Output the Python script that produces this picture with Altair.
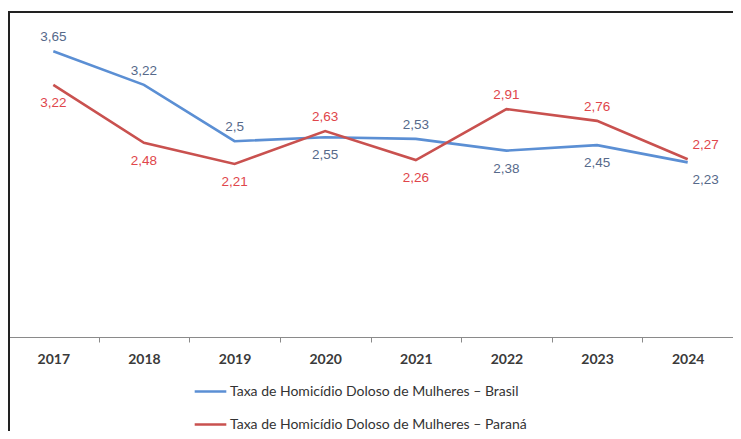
import altair as alt
import pandas as pd

years = ["2017", "2018", "2019", "2020", "2021", "2022", "2023", "2024"]
brasil = [3.65, 3.22, 2.5, 2.55, 2.53, 2.38, 2.45, 2.23]
parana = [3.22, 2.48, 2.21, 2.63, 2.26, 2.91, 2.76, 2.27]
series_names = [
    "Taxa de Homicídio Doloso de Mulheres – Brasil",
    "Taxa de Homicídio Doloso de Mulheres – Paraná",
]

rows = []
for i, y in enumerate(years):
    for s, vals, other in ((series_names[0], brasil, parana), (series_names[1], parana, brasil)):
        v = vals[i]
        rows.append({
            "year": y,
            "series": s,
            "value": v,
            "label": str(v).replace(".", ","),
            "above": v > other[i],
            "last": y == years[-1],
        })
df = pd.DataFrame(rows)

BLUE = "#5b8fd4"
RED = "#c9514f"
BLUE_TXT = "#56698a"
RED_TXT = "#e0464b"

x_enc = alt.X("year:N", sort=years, scale=alt.Scale(paddingInner=0, paddingOuter=0),
              axis=alt.Axis(title=None, labelAngle=0, tickBand="extent", domainColor="#8a8a8a",
                            tickColor="#8a8a8a", tickSize=5, labelPadding=10,
                            labelFont="Lato", labelFontSize=14, labelFontWeight="bold",
                            labelColor="#3a3a3a"))
y_enc = alt.Y("value:Q", scale=alt.Scale(domain=[0, 4.15], nice=False, zero=True), axis=None)

base = alt.Chart(df)

lines = base.mark_line(strokeWidth=2.6).encode(
    x=x_enc,
    y=y_enc,
    color=alt.Color("series:N", sort=series_names,
                    scale=alt.Scale(domain=series_names, range=[BLUE, RED]),
                    legend=alt.Legend(title=None, orient="none", legendX=185, legendY=362,
                                      direction="vertical", symbolType="stroke",
                                      symbolSize=1000, symbolStrokeWidth=2.6,
                                      labelFont="Lato", labelFontSize=14,
                                      labelColor="#333333", rowPadding=8,
                                      labelOffset=2, labelLimit=600)),
)

txt_color = alt.condition(f"datum.series == '{series_names[0]}'", alt.value(BLUE_TXT), alt.value(RED_TXT))

text_layers = []
for above in (True, False):
    for last in (False, True):
        dy = -14 if above else 18
        dx = 18 if last else 0
        filt = f"datum.above == {str(above).lower()} && datum.last == {str(last).lower()}"
        text_layers.append(
            base.transform_filter(filt).mark_text(
                font="Liberation Sans", fontSize=13.5, dy=dy, dx=dx, baseline="middle"
            ).encode(x=x_enc, y=y_enc, text="label:N", color=txt_color)
        )

frame_left = alt.Chart(df).mark_rule(color="#222222", strokeWidth=2).encode(
    x=alt.value(0.5), y=alt.value(0), y2=alt.value(440)
)
frame_top = alt.Chart(df).mark_rule(color="#222222", strokeWidth=2).encode(
    x=alt.value(0), x2=alt.value(760), y=alt.value(0)
)

chart = alt.layer(lines, *text_layers, frame_left, frame_top).properties(
    width=725, height=325,
    autosize=alt.AutoSizeParams(type="none"),
    padding={"left": 0, "top": 4, "right": 0, "bottom": 94},
).configure_view(stroke=None)

chart.save("out.html", embed_options={"renderer": "svg", "actions": False})
